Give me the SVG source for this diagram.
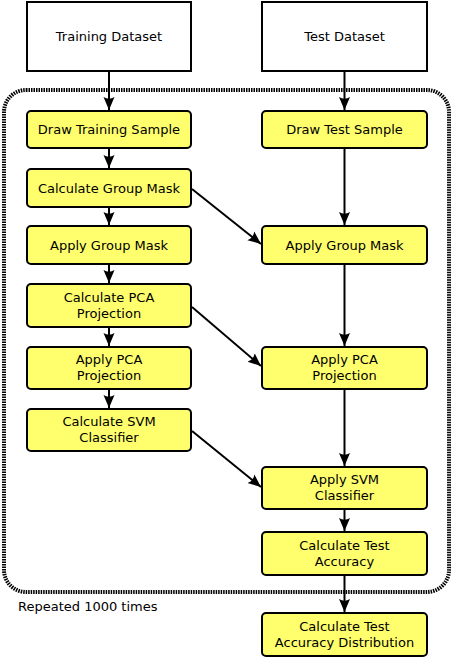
<svg xmlns="http://www.w3.org/2000/svg" width="454" height="658" viewBox="0 0 454 658">
<defs>
<marker id="ah" markerUnits="userSpaceOnUse" markerWidth="14" markerHeight="14" refX="13" refY="7" orient="auto" viewBox="0 0 14 14">
<path d="M0,1.5 L13,7 L0,12.5 Q3.5,7 0,1.5 Z" fill="#000"/>
</marker>
</defs>
<style>
.ds{fill:#fff;stroke:#000;stroke-width:2}
.st{fill:#ffff6e;stroke:#000;stroke-width:2}
text{font-family:"DejaVu Sans","Liberation Sans",sans-serif;font-size:13px;fill:#000;text-anchor:middle}
.c{fill:none;stroke:#000;stroke-width:2;marker-end:url(#ah)}
</style>
<rect x="4" y="90" width="445" height="502" rx="22" fill="none" stroke="#000" stroke-width="4" stroke-dasharray="1.5 1"/>
<text x="18" y="611" style="text-anchor:start">Repeated 1000 times</text>
<g id="connectors">
<line class="c" x1="109" y1="72" x2="109" y2="110"/>
<line class="c" x1="109" y1="149" x2="109" y2="168"/>
<line class="c" x1="109" y1="208" x2="109" y2="225"/>
<line class="c" x1="109" y1="265" x2="109" y2="283"/>
<line class="c" x1="109" y1="328" x2="109" y2="346"/>
<line class="c" x1="109" y1="390" x2="109" y2="408"/>
<line class="c" x1="344.5" y1="72" x2="344.5" y2="110"/>
<line class="c" x1="344.5" y1="149" x2="344.5" y2="225"/>
<line class="c" x1="344.5" y1="265" x2="344.5" y2="346"/>
<line class="c" x1="344.5" y1="390" x2="344.5" y2="466"/>
<line class="c" x1="344.5" y1="510" x2="344.5" y2="531"/>
<line class="c" x1="344.5" y1="576" x2="344.5" y2="612"/>
<line class="c" x1="192" y1="189" x2="261" y2="244"/>
<line class="c" x1="192" y1="307" x2="261" y2="366"/>
<line class="c" x1="192" y1="431" x2="261" y2="487"/>
</g>
<g id="training-dataset"><rect class="ds" x="27" y="2" width="164" height="69"/><text x="109" y="41">Training Dataset</text></g>
<g id="test-dataset"><rect class="ds" x="262" y="2" width="165" height="69"/><text x="344.5" y="41">Test Dataset</text></g>
<g id="draw-training"><rect class="st" x="27" y="111" width="164" height="37" rx="4"/><text x="109" y="134">Draw Training Sample</text></g>
<g id="calc-group-mask"><rect class="st" x="27" y="169" width="164" height="38" rx="4"/><text x="109" y="192.5">Calculate Group Mask</text></g>
<g id="apply-group-mask-train"><rect class="st" x="27" y="226" width="164" height="38" rx="4"/><text x="109" y="249.5">Apply Group Mask</text></g>
<g id="calc-pca"><rect class="st" x="27" y="284" width="164" height="43" rx="4"/><text x="109" y="301.5">Calculate PCA</text><text x="109" y="317.5">Projection</text></g>
<g id="apply-pca-train"><rect class="st" x="27" y="347" width="164" height="42" rx="4"/><text x="109" y="364">Apply PCA</text><text x="109" y="380">Projection</text></g>
<g id="calc-svm"><rect class="st" x="27" y="409" width="164" height="42" rx="4"/><text x="109" y="426">Calculate SVM</text><text x="109" y="442">Classifier</text></g>
<g id="draw-test"><rect class="st" x="262" y="111" width="165" height="37" rx="4"/><text x="344.5" y="134">Draw Test Sample</text></g>
<g id="apply-group-mask-test"><rect class="st" x="262" y="226" width="165" height="38" rx="4"/><text x="344.5" y="249.5">Apply Group Mask</text></g>
<g id="apply-pca-test"><rect class="st" x="262" y="347" width="165" height="42" rx="4"/><text x="344.5" y="364">Apply PCA</text><text x="344.5" y="380">Projection</text></g>
<g id="apply-svm"><rect class="st" x="262" y="467" width="165" height="42" rx="4"/><text x="344.5" y="484">Apply SVM</text><text x="344.5" y="500">Classifier</text></g>
<g id="calc-accuracy"><rect class="st" x="262" y="532" width="165" height="43" rx="4"/><text x="344.5" y="549.5">Calculate Test</text><text x="344.5" y="565.5">Accuracy</text></g>
<g id="calc-distribution"><rect class="st" x="262" y="613" width="165" height="43" rx="4"/><text x="344.5" y="630.5">Calculate Test</text><text x="344.5" y="646.5">Accuracy Distribution</text></g>
</svg>
